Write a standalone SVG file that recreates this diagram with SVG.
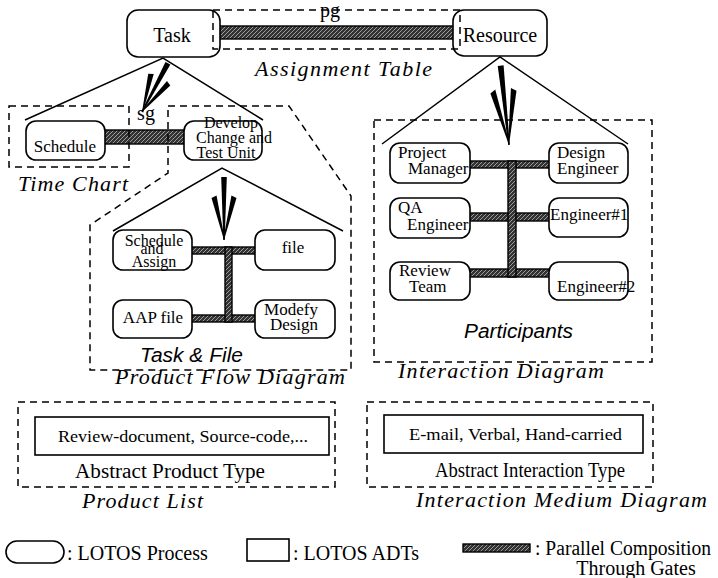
<svg xmlns="http://www.w3.org/2000/svg" width="718" height="578" viewBox="0 0 718 578">
  <style>
    .node { fill: #fff; stroke: #000; stroke-width: 1.6; }
    .adt { fill: #fff; stroke: #000; stroke-width: 1.6; }
    .frame { fill: none; stroke: #000; stroke-width: 1.5; stroke-dasharray: 7 5; }
    .bar { fill: url(#hatch); stroke: #000; stroke-width: 1.4; }
    .edge { fill: none; stroke: #000; stroke-width: 1.5; }
    .t { font-family: "Liberation Serif", "Times New Roman", serif; font-size: 17px; fill: #000; }
    .ts { font-family: "Liberation Serif", "Times New Roman", serif; font-size: 16px; fill: #000; }
    .tl { font-family: "Liberation Serif", "Times New Roman", serif; font-size: 20px; fill: #000; }
    .ti { font-family: "Liberation Serif", "Times New Roman", serif; font-size: 22px; font-style: italic; fill: #000; }
    .hi { font-family: "Liberation Sans", Arial, sans-serif; font-size: 20px; font-style: italic; fill: #000; }
    .c { text-anchor: middle; }
  </style>
  <defs>
    <pattern id="hatch" width="4" height="4" patternUnits="userSpaceOnUse">
      <rect width="4" height="4" fill="#333"/>
      <path d="M-1,1 L1,-1 M0,4 L4,0 M3,5 L5,3" stroke="#a8a8a8" stroke-width="0.9"/>
    </pattern>
    <!-- refinement arrow: tip at origin, pointing down -->
    <g id="arrow" fill="#000">
      <polygon points="-2.8,-60 2.8,-60 0.7,0 -0.7,0"/>
      <polygon points="-12.5,-40 -7.5,-42.5 0.7,-1 0,0"/>
      <polygon points="12.5,-40 7.5,-42.5 -0.7,-1 0,0"/>
    </g>
  </defs>

  <!-- decomposition lines, refinement arrows and gate bars -->
  <g id="connectors">
    <polyline class="edge" points="25,120 163,58 263,120"/>
    <polyline class="edge" points="113,231 222,168 343,231"/>
    <polyline class="edge" points="382,144 500,57 628,144"/>
    <use href="#arrow" transform="translate(142,112) rotate(28) scale(1,0.92)"/>
    <use href="#arrow" transform="translate(224,240) scale(1,1.05)"/>
    <use href="#arrow" transform="translate(509,145) rotate(-6) scale(1.05,1.33)"/>

    <!-- parallel composition through gates -->
    <rect class="bar" x="218" y="26" width="238" height="13"/>
    <rect class="bar" x="103" y="130" width="84" height="14"/>

    <rect class="bar" x="190" y="247" width="68" height="7"/>
    <rect class="bar" x="190" y="315" width="68" height="7"/>
    <rect class="bar" x="225" y="247" width="7" height="75"/>

    <rect class="bar" x="468" y="161" width="84" height="7"/>
    <rect class="bar" x="468" y="213" width="84" height="8"/>
    <rect class="bar" x="468" y="269" width="84" height="8"/>
    <rect class="bar" x="508" y="161" width="8" height="116"/>
  </g>

  <!-- top level -->
  <g id="task">
    <rect class="node" x="127" y="10" width="93" height="47" rx="11"/>
    <text class="tl c" x="172" y="42">Task</text>
  </g>
  <g id="resource">
    <rect class="node" x="453" y="10" width="94" height="46" rx="11"/>
    <text class="tl c" x="500" y="42">Resource</text>
  </g>
  <g id="assignment-table">
    <rect class="frame" x="213" y="10" width="247" height="39"/>
    <text class="tl c" x="330" y="17">pg</text>
    <text class="ti" x="255" y="76" textLength="177" lengthAdjust="spacing">Assignment Table</text>
  </g>

  <!-- task decomposition -->
  <g id="schedule">
    <rect class="node" x="26" y="121" width="79" height="39" rx="10"/>
    <text class="t c" x="65" y="152">Schedule</text>
  </g>
  <g id="develop">
    <rect class="node" x="184" y="121" width="78" height="39" rx="10"/>
    <text class="ts c" x="231" y="128">Develop</text>
    <text class="ts c" x="234" y="143">Change and</text>
    <text class="ts c" x="226" y="158">Test Unit</text>
  </g>
  <g id="time-chart">
    <rect class="frame" x="9" y="106" width="120" height="61"/>
    <text class="tl c" x="146" y="120">sg</text>
    <text class="ti" x="18" y="191" textLength="110" lengthAdjust="spacing">Time Chart</text>
  </g>

  <g id="product-flow-diagram">
    <polygon class="frame" points="168,106 289,106 351,196 351,370 90,370 90,225 168,173"/>
    <text class="hi" x="140" y="362" textLength="103" lengthAdjust="spacingAndGlyphs">Task &amp; File</text>
    <text class="ti" x="115" y="384" textLength="230" lengthAdjust="spacing">Product Flow Diagram</text>
  </g>
  <g id="schedule-assign">
    <rect class="node" x="113" y="230" width="79" height="40" rx="10"/>
    <text class="ts c" x="154" y="246">Schedule</text>
    <text class="ts c" x="152" y="254">and</text>
    <text class="ts c" x="154" y="267">Assign</text>
  </g>
  <g id="file">
    <rect class="node" x="255" y="230" width="80" height="40" rx="10"/>
    <text class="t c" x="293" y="253">file</text>
  </g>
  <g id="aap-file">
    <rect class="node" x="113" y="300" width="79" height="38" rx="10"/>
    <text class="t c" x="153" y="323">AAP file</text>
  </g>
  <g id="modefy-design">
    <rect class="node" x="255" y="300" width="80" height="38" rx="10"/>
    <text class="t c" x="291" y="315">Modefy</text>
    <text class="t c" x="294" y="330">Design</text>
  </g>

  <!-- resource decomposition -->
  <g id="interaction-diagram">
    <rect class="frame" x="374" y="120" width="278" height="242"/>
    <text class="hi" x="464" y="338" textLength="109" lengthAdjust="spacingAndGlyphs">Participants</text>
    <text class="ti" x="398" y="378" textLength="206" lengthAdjust="spacing">Interaction Diagram</text>
  </g>
  <g id="project-manager">
    <rect class="node" x="390" y="143" width="80" height="40" rx="10"/>
    <text class="t" x="398" y="158">Project</text>
    <text class="t" x="408" y="174">Manager</text>
  </g>
  <g id="design-engineer">
    <rect class="node" x="549" y="143" width="79" height="40" rx="10"/>
    <text class="t" x="557" y="158">Design</text>
    <text class="t" x="557" y="174">Engineer</text>
  </g>
  <g id="qa-engineer">
    <rect class="node" x="390" y="198" width="80" height="40" rx="10"/>
    <text class="t" x="398" y="213">QA</text>
    <text class="t" x="407" y="230">Engineer</text>
  </g>
  <g id="engineer-1">
    <rect class="node" x="549" y="198" width="79" height="39" rx="10"/>
    <text class="t" x="550" y="220">Engineer#1</text>
  </g>
  <g id="review-team">
    <rect class="node" x="390" y="262" width="80" height="38" rx="10"/>
    <text class="t" x="399" y="276">Review</text>
    <text class="t" x="409" y="292">Team</text>
  </g>
  <g id="engineer-2">
    <rect class="node" x="549" y="262" width="79" height="38" rx="10"/>
    <text class="t" x="557" y="292">Engineer#2</text>
  </g>

  <!-- data types -->
  <g id="product-list">
    <rect class="frame" x="18" y="402" width="317" height="85"/>
    <rect class="adt" x="35" y="417" width="294" height="38"/>
    <text class="t" x="58" y="442" textLength="250" lengthAdjust="spacingAndGlyphs">Review-document, Source-code,...</text>
    <text class="tl" x="75" y="478" textLength="190" lengthAdjust="spacingAndGlyphs">Abstract Product Type</text>
    <text class="ti" x="82" y="508" textLength="121" lengthAdjust="spacing">Product List</text>
  </g>
  <g id="interaction-medium-diagram">
    <rect class="frame" x="367" y="402" width="286" height="85"/>
    <rect class="adt" x="384" y="415" width="259" height="38"/>
    <text class="t" x="409" y="440" textLength="213" lengthAdjust="spacingAndGlyphs">E-mail, Verbal, Hand-carried</text>
    <text class="tl" x="435" y="477" textLength="190" lengthAdjust="spacingAndGlyphs">Abstract Interaction Type</text>
    <text class="ti" x="416" y="507" textLength="291" lengthAdjust="spacing">Interaction Medium Diagram</text>
  </g>

  <!-- legend -->
  <g id="legend">
    <rect class="node" x="6" y="541" width="58" height="22" rx="11"/>
    <text class="tl" x="67" y="560">: LOTOS Process</text>
    <rect class="adt" x="247" y="539" width="42" height="22"/>
    <text class="tl" x="293" y="560">: LOTOS ADTs</text>
    <rect class="bar" x="463" y="544" width="67" height="8"/>
    <text class="tl" x="535" y="555" textLength="176" lengthAdjust="spacingAndGlyphs">: Parallel Composition</text>
    <text class="tl c" x="636" y="575">Through Gates</text>
  </g>
</svg>
